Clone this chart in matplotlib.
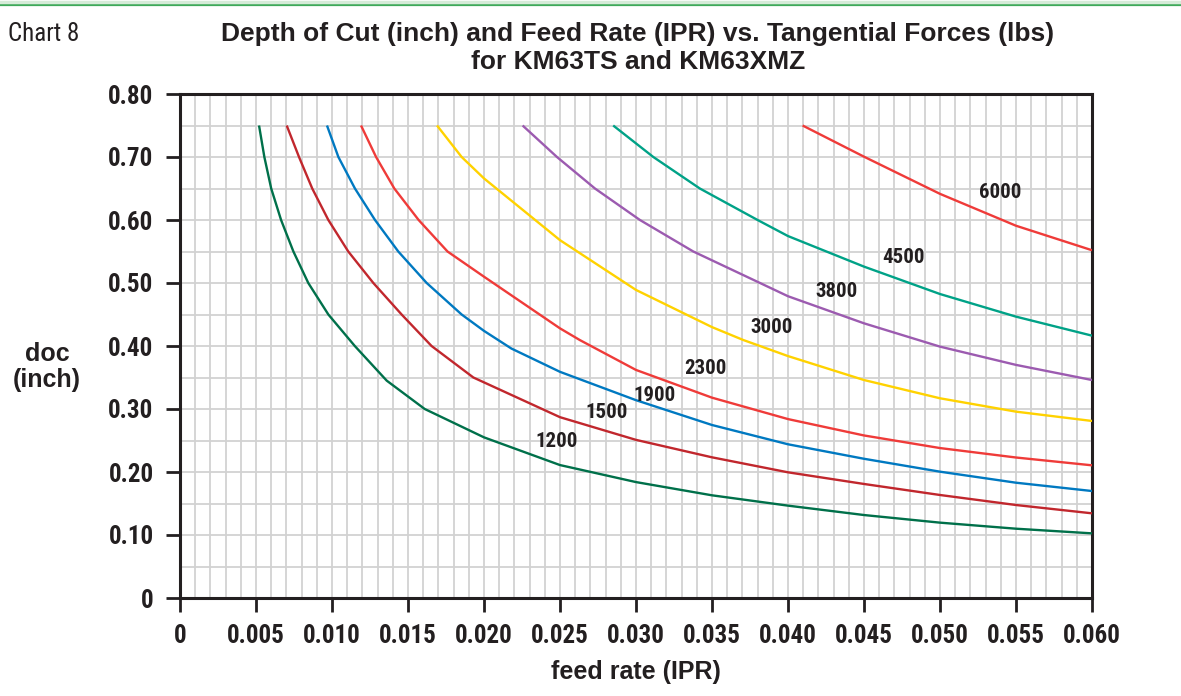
import numpy as np
import matplotlib
matplotlib.use("Agg")
import matplotlib.pyplot as plt
from matplotlib import font_manager

# readings taken off the chart: feed rate (IPR) and depth of cut (inch)
forces = [1200, 1500, 1900, 2300, 3000, 3800, 4500, 6000]

feed_1200 = [0.0052, 0.00555, 0.0060, 0.00665, 0.00746, 0.00844, 0.00976, 0.0115, 0.0136, 0.0161,
             0.020, 0.025, 0.030, 0.035, 0.040, 0.045, 0.050, 0.055, 0.060]
doc_1200 = [0.75, 0.70, 0.65, 0.60, 0.55, 0.50, 0.45, 0.40, 0.345, 0.30,
            0.255, 0.211, 0.184, 0.163, 0.1466, 0.1317, 0.1196, 0.110, 0.1026]

feed_1500 = [0.00702, 0.00783, 0.0087, 0.00976, 0.01107, 0.01272, 0.01458, 0.01655, 0.0193,
             0.025, 0.030, 0.035, 0.040, 0.045, 0.050, 0.055, 0.060]
doc_1500 = [0.75, 0.70, 0.65, 0.60, 0.55, 0.50, 0.45, 0.40, 0.35,
            0.287, 0.251, 0.2233, 0.1995, 0.181, 0.1635, 0.1476, 0.1344]

feed_1900 = [0.00967, 0.01042, 0.01151, 0.01283, 0.01436, 0.01623, 0.01853, 0.0200, 0.0218,
             0.025, 0.030, 0.035, 0.040, 0.045, 0.050, 0.055, 0.060]
doc_1900 = [0.75, 0.70, 0.65, 0.60, 0.55, 0.50, 0.45, 0.424, 0.396,
            0.359, 0.314, 0.2746, 0.244, 0.221, 0.2005, 0.183, 0.1698]

feed_2300 = [0.01191, 0.0129, 0.0141, 0.0157, 0.0176, 0.020, 0.025, 0.0263,
             0.030, 0.035, 0.040, 0.045, 0.050, 0.055, 0.060]
doc_2300 = [0.75, 0.70, 0.65, 0.60, 0.55, 0.51, 0.428, 0.4095,
            0.362, 0.318, 0.284, 0.258, 0.238, 0.223, 0.2106]

feed_3000 = [0.01691, 0.01853, 0.020, 0.025, 0.030, 0.035, 0.03706, 0.040, 0.045, 0.050, 0.055, 0.060]
doc_3000 = [0.75, 0.70, 0.666, 0.568, 0.489, 0.430, 0.4095, 0.384, 0.346, 0.317, 0.2958, 0.281]

feed_3800 = [0.02254, 0.0248, 0.0273, 0.03026, 0.03377, 0.03816, 0.040, 0.045, 0.050, 0.055, 0.060]
doc_3800 = [0.75, 0.70, 0.65, 0.60, 0.55, 0.50, 0.479, 0.436, 0.399, 0.370, 0.346]

feed_4500 = [0.0285, 0.03114, 0.0342, 0.0380, 0.040, 0.045, 0.050, 0.055, 0.060]
doc_4500 = [0.75, 0.70, 0.65, 0.60, 0.5745, 0.526, 0.4825, 0.4466, 0.4164]

feed_6000 = [0.04096, 0.045, 0.050, 0.055, 0.060]
doc_6000 = [0.75, 0.7005, 0.6415, 0.5909, 0.552]

x_ticks = [0, 0.005, 0.010, 0.015, 0.020, 0.025, 0.030, 0.035, 0.040, 0.045, 0.050, 0.055, 0.060]
x_tick_labels = ['0', '0.005', '0.010', '0.015', '0.020', '0.025', '0.030', '0.035',
                 '0.040', '0.045', '0.050', '0.055', '0.060']
y_ticks = [0, 0.1, 0.2, 0.3, 0.4, 0.5, 0.6, 0.7, 0.8]
y_tick_labels = ['0', '0.10', '0.20', '0.30', '0.40', '0.50', '0.60', '0.70', '0.80']

# pick a condensed family that has a real bold face
fl = font_manager.fontManager.ttflist
narrow = 'Liberation Sans'
for cand in ['Liberation Sans Narrow', 'Roboto Condensed', 'PT Sans Narrow', 'Fira Sans Condensed',
             'IBM Plex Sans Condensed', 'Encode Sans Condensed', 'Barlow Condensed', 'Asap Condensed']:
    if any(f.name == cand and f.weight in (700, 'bold') for f in fl):
        narrow = cand
        break
wide = 'Liberation Sans'
ink = '#231f20'

fig = plt.figure(figsize=(11.81, 6.96), dpi=100)
ax = fig.add_axes([180 / 1181, 1 - 598 / 696, 912 / 1181, 504 / 696])

# top rule
fig.add_artist(plt.Line2D([0, 1], [1 - 4.5 / 696, 1 - 4.5 / 696], color='#3fa95a', lw=1.6))
fig.add_artist(plt.Line2D([0, 1], [1 - 1.5 / 696, 1 - 1.5 / 696], color='#d6ebd8', lw=2.5))

curves = [(feed_1200, doc_1200), (feed_1500, doc_1500), (feed_1900, doc_1900), (feed_2300, doc_2300),
          (feed_3000, doc_3000), (feed_3800, doc_3800), (feed_4500, doc_4500), (feed_6000, doc_6000)]
colors = ['#00704a', '#c1272d', '#0079c1', '#ef3b39', '#ffd200', '#9c5bb0', '#00a287', '#ef3b39']
label_xy = [(0.0248, 0.249), (0.0281, 0.2937), (0.0312, 0.322), (0.03454, 0.3635),
            (0.03895, 0.430), (0.04316, 0.486), (0.04757, 0.541), (0.05395, 0.644)]

for (fx, dy), c in zip(curves, colors):
    ax.plot(fx, dy, color=c, lw=1.7, solid_capstyle='butt', solid_joinstyle='round', zorder=3)

for f, (lx, ly) in zip(forces, label_xy):
    ax.text(lx, ly, str(f), ha='center', va='center', fontsize=15, fontweight='bold',
            family=narrow, color=ink, zorder=4)

ax.set_xlim(0, 0.060)
ax.set_ylim(0, 0.80)
ax.set_xticks(x_ticks)
ax.set_xticklabels(x_tick_labels)
ax.set_yticks(y_ticks)
ax.set_yticklabels(y_tick_labels)
ax.set_xticks(np.arange(0, 0.0605, 0.001), minor=True)
ax.set_yticks(np.arange(0, 0.805, 0.05), minor=True)
ax.set_axisbelow(True)
ax.grid(which='both', color='#d2d2d2', lw=1.3)
ax.tick_params(which='minor', length=0)
ax.tick_params(which='major', length=10, width=2, color=ink, direction='out', pad=9,
               labelsize=18, labelcolor=ink)
for lab in ax.get_xticklabels() + ax.get_yticklabels():
    lab.set_family(narrow)
    lab.set_fontweight('bold')
for s in ax.spines.values():
    s.set_linewidth(2.2)
    s.set_color(ink)

fig.text(638 / 1181, 1 - 34 / 696, 'Depth of Cut (inch) and Feed Rate (IPR) vs. Tangential Forces (lbs)',
         ha='center', va='center', fontsize=19, fontweight='bold', family=wide, color=ink)
fig.text(638 / 1181, 1 - 62 / 696, 'for KM63TS and KM63XMZ',
         ha='center', va='center', fontsize=19, fontweight='bold', family=wide, color=ink)
fig.text(8 / 1181, 1 - 34 / 696, 'Chart 8', ha='left', va='center', fontsize=18, family=narrow, color=ink)
fig.text(47 / 1181, 1 - 367 / 696, 'doc\n(inch)', ha='center', va='center', fontsize=18,
         fontweight='bold', family=wide, color=ink, linespacing=1.1)
fig.text(636 / 1181, 1 - 672 / 696, 'feed rate (IPR)', ha='center', va='center', fontsize=18,
         fontweight='bold', family=wide, color=ink)

fig.savefig('out.png', dpi=100)
